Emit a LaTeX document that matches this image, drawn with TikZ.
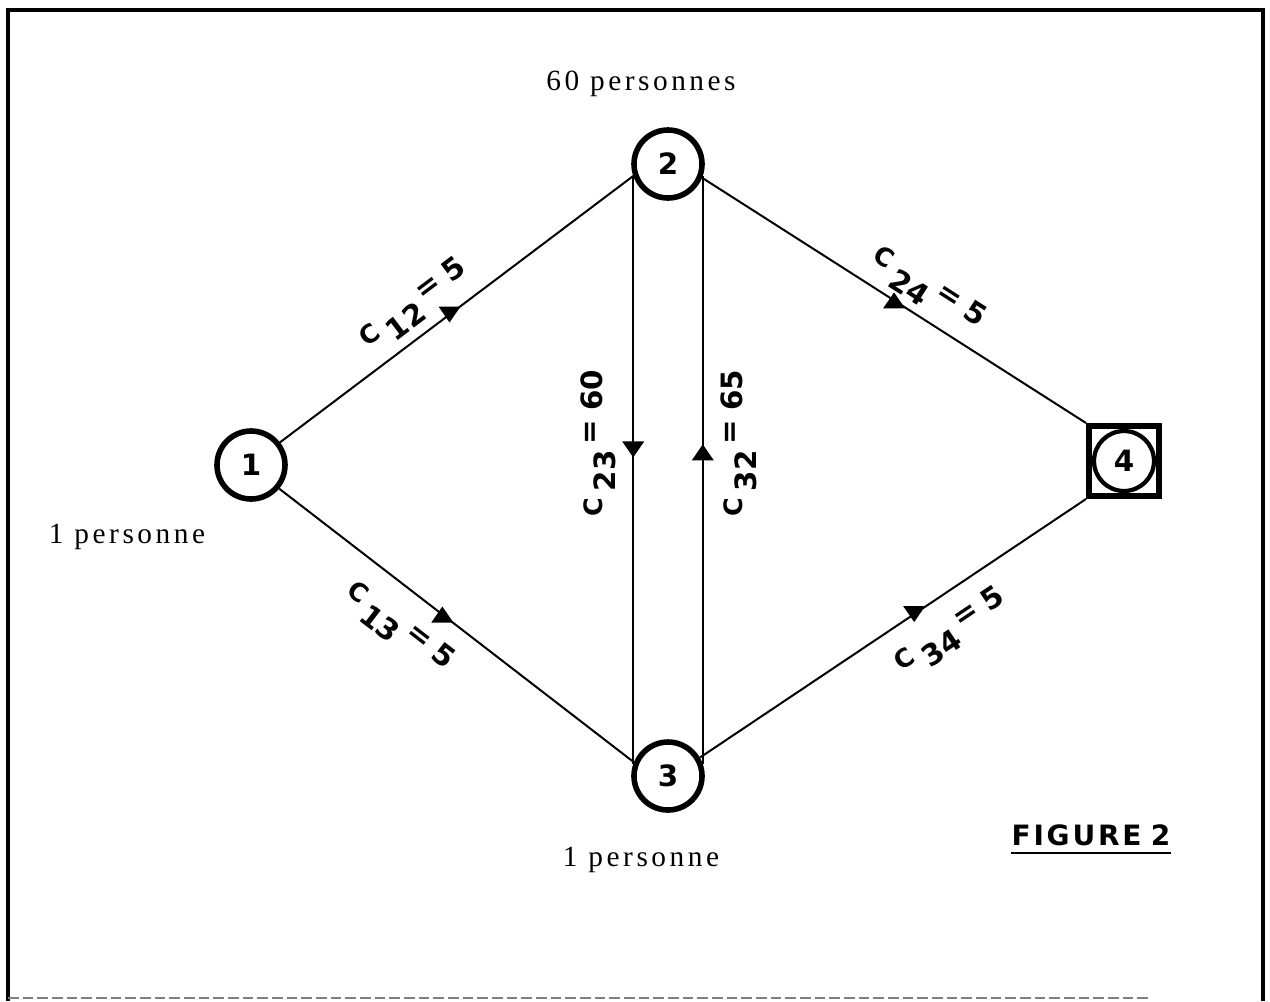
\documentclass[tikz,border=0pt]{standalone}
\usepackage{fontspec}
\setmainfont{Liberation Serif}
\newfontfamily\labfam{DejaVu Sans}
\newfontfamily\figfam[LetterSpace=10]{DejaVu Sans}
\newfontfamily\persfam[LetterSpace=12]{Liberation Serif}
\newcommand\labfont{\labfam\bfseries\fontsize{22pt}{24pt}\selectfont}
\newcommand\numfont{\labfam\bfseries\fontsize{22pt}{24pt}\selectfont}
\newcommand\persfont{\persfam\fontsize{22pt}{25pt}\selectfont}
\newcommand\figfont{\figfam\bfseries\fontsize{21pt}{24pt}\selectfont}
\newcommand\clab[2]{{\fontsize{19pt}{20pt}\selectfont C}\hspace{0.25em}\raisebox{-0.45em}{#1}\hspace{0.2em}\raisebox{0.1em}{=}\hspace{0.3em}#2}
\begin{document}
\begin{tikzpicture}[x=0.75pt,y=-0.75pt,
  station/.style={circle, draw, line width=4.2pt, minimum size=51pt, inner sep=0pt, font=\numfont},
  edge/.style={line width=1.5pt},
  lab/.style={font=\labfont, inner sep=1pt},
  pers/.style={font=\persfont, inner sep=0pt, anchor=base},
  downtri/.pic={\fill (-11,-8) -- (11,-8) -- (0,8) -- cycle;},
  uptri/.pic={\fill (-11,8) -- (11,8) -- (0,-8) -- cycle;}]
\useasboundingbox (0,0) rectangle (1270,1001);
% frame
\draw[line width=3.5pt] (8,1001) -- (8,10) -- (1263,10) -- (1263,1001);
\draw[line width=1pt, gray, dash pattern=on 8pt off 3pt] (8,998) -- (1150,998);
% nodes
\node[station] (n1) at (251,465) {1};
\node[station] (n2) at (668,164) {2};
\node[station] (n3) at (668,776) {3};
\node[draw, line width=4.5pt, minimum size=52.5pt, inner sep=0pt] (n4) at (1124,461) {};
\node[station, line width=3.2pt, minimum size=45pt] (n4c) at (n4.center) {4};
% edges
\draw[edge] (n1.38) -- (n2.199)
  pic[pos=0.48]{downtri}
  node[lab, pos=0.43, sloped, above=6pt]{\clab{12}{5}};
\draw[edge] (n1.-40) -- (n3.158)
  pic[pos=0.46]{uptri}
  node[lab, pos=0.40, sloped, below=14pt]{\clab{13}{5}};
\draw[edge] (n2.-22) -- (n4.north west)
  pic[pos=0.50]{uptri}
  node[lab, pos=0.55, sloped, above=5pt]{\clab{24}{5}};
\draw[edge] (n3.30) -- (n4.south west)
  pic[pos=0.555]{downtri}
  node[lab, pos=0.60, sloped, below=13pt]{\clab{34}{5}};
\draw[edge] (n2.199) -- (n3.161)
  pic[pos=0.465]{downtri}
  node[lab, pos=0.455, rotate=90, anchor=south, inner sep=12pt]{\clab{23}{60}};
\draw[edge] (n3.19) -- (n2.-19)
  pic[pos=0.53]{uptri}
  node[lab, pos=0.545, rotate=90, anchor=north, inner sep=13pt]{\clab{32}{65}};
% texts
\node[pers] (p2) at (641,90) {60 personnes};
\node[pers] (p1) at (127,543) {1 personne};
\node[pers] (p3) at (641,866) {1 personne};
\node[font=\figfont, inner sep=0pt, anchor=base] (fig) at (1091,845) {FIGURE\,\,2};
\draw[line width=2.2pt] ([yshift=-6pt]fig.base west) -- ([yshift=-6pt]fig.base east);
\end{tikzpicture}
\end{document}
